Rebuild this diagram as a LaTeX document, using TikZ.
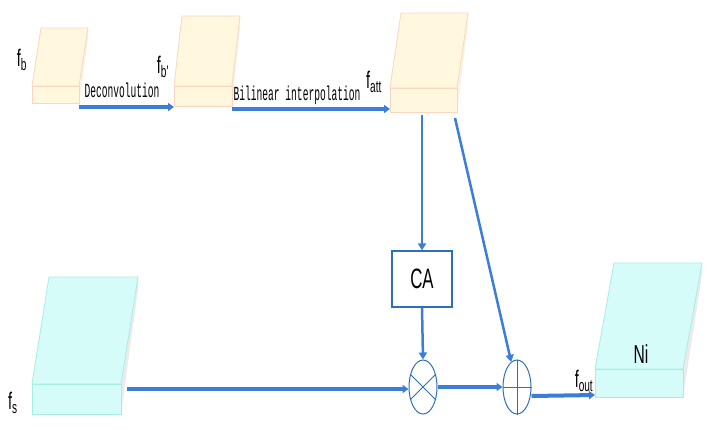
\documentclass[tikz,border=0pt]{standalone}
\usepackage{fontspec}
\setmainfont{Liberation Sans}
\newfontfamily\narrowsf[FakeStretch=0.6]{Liberation Sans}
\newfontfamily\narrowtt[FakeStretch=0.48]{Liberation Mono}
\usetikzlibrary{arrows.meta,positioning,calc,shapes.geometric}
\definecolor{mapyellow}{HTML}{FFF8DE}
\definecolor{mapyellowedge}{HTML}{F8D6C2}
\definecolor{mapcyan}{HTML}{D6FCFA}
\definecolor{mapcyanedge}{HTML}{A6EEE2}
\definecolor{mapside}{HTML}{EBEBEB}
\definecolor{flowblue}{HTML}{3B7DD8}
\definecolor{opblue}{HTML}{2F6FB8}
\tikzset{
  yface/.style  ={fill=mapyellow,draw=mapyellowedge,line width=0.8pt},
  yside/.style  ={fill=mapyellow!60!mapside},
  cface/.style  ={fill=mapcyan,draw=mapcyanedge,line width=0.8pt},
  cside/.style  ={fill=mapside},
  lbl/.style    ={inner sep=0pt,font=\narrowsf\fontsize{24}{26}\selectfont},
  optxt/.style  ={inner sep=0pt,font=\narrowtt\fontsize{20}{22}\selectfont},
  cabox/.style  ={draw=opblue,line width=1.2pt,fill=white,inner sep=0pt,
                  minimum width=60pt,minimum height=56pt,
                  font=\narrowsf\fontsize{28}{30}\selectfont},
  opnode/.style ={ellipse,draw=opblue,line width=1pt,fill=white,inner sep=0pt,
                  minimum width=28pt,minimum height=54pt},
  opline/.style ={draw=opblue,line width=1pt},
  flow/.style   ={-{Triangle[length=6pt,width=8pt]},line width=4pt,draw=flowblue},
  thinflow/.style={-{Triangle[length=7pt,width=8pt]},line width=2.5pt,draw=flowblue}
}
% slanted feature block: name, colour, left, right, top, front top, front bottom, slant
\newcommand{\featmap}[8]{%
  \fill[#2side] (#4,#6) -- ({#4+#8},#5) -- ({#4+#8},{#5+12}) -- (#4,#7) -- cycle;
  \draw[#2face] (#3,#6) -- ({#3+#8},#5) -- ({#4+#8},#5) -- (#4,#6) -- cycle;
  \node[#2face,minimum width={#4-#3},minimum height={#7-#6},inner sep=0pt,
        outer sep=0pt] (#1) at ({(#3+#4)/2},{(#6+#7)/2}) {};}

\begin{document}
\begin{tikzpicture}[x=1pt,y=-1pt]
  \useasboundingbox[fill=white] (0,0) rectangle (714,429);
  % feature maps
  \featmap{fb}{y}{32}{79}{28}{86}{103}{9}
  \featmap{fbp}{y}{174}{232}{16}{86}{106}{8}
  \featmap{fatt}{y}{390}{457}{13}{88}{112}{11}
  \featmap{fs}{c}{32}{121}{277}{384}{414}{17}
  \featmap{ni}{c}{595}{683}{263}{369}{397}{19}
  \node[lbl] (lfb) at (22,60) {f\textsubscript{b}};
  \node[lbl] (lfbp) at (163,67) {f\textsubscript{b'}};
  \node[lbl] (lfatt) at (374,82) {f\textsubscript{att}};
  \node[lbl] (lfs) at (13,403) {f\textsubscript{s}};
  \node[lbl] (lfout) at (584,381) {f\textsubscript{out}};
  \node[lbl,font=\narrowsf\fontsize{26}{28}\selectfont] (lni) at (641,354) {Ni};
  % operations
  \node[cabox] (ca) at (422,279) {CA};
  \node[opnode] (mul) at (423,387) {};
  \draw[opline] (mul.45) -- (mul.225) (mul.135) -- (mul.315);
  \node[opnode] (add) at (517,387) {};
  \draw[opline] (add.north) -- (add.south) (add.west) -- (add.east);
  % connectors
  \draw[flow] ([yshift=-4pt]fb.south east) -- ([yshift=-1pt]fbp.south west);
  \node[optxt] (tdec) at (122,90) {Deconvolution};
  \draw[flow] ([yshift=-3pt]fbp.south east) -- ([yshift=3pt]fatt.south west);
  \node[optxt] (tbil) at (297,95) {Bilinear interpolation};
  \draw[thinflow] ($(ca.north |- fatt.south)+(0,3)$) -- (ca.north);
  \draw[thinflow] (ca.south) -- (mul.north);
  \draw[thinflow] ($(fatt.south east)+(-2,6)$) -- (add);
  \coordinate (fsout) at ($(fs.north east)+(6,5)$);
  \draw[flow] (fsout) -- (fsout -| mul.west);
  \draw[flow] (mul.east) -- (add.west);
  \draw[flow] ([yshift=-9pt]add.east) -- ([yshift=2pt]ni.south west);
\end{tikzpicture}
\end{document}
